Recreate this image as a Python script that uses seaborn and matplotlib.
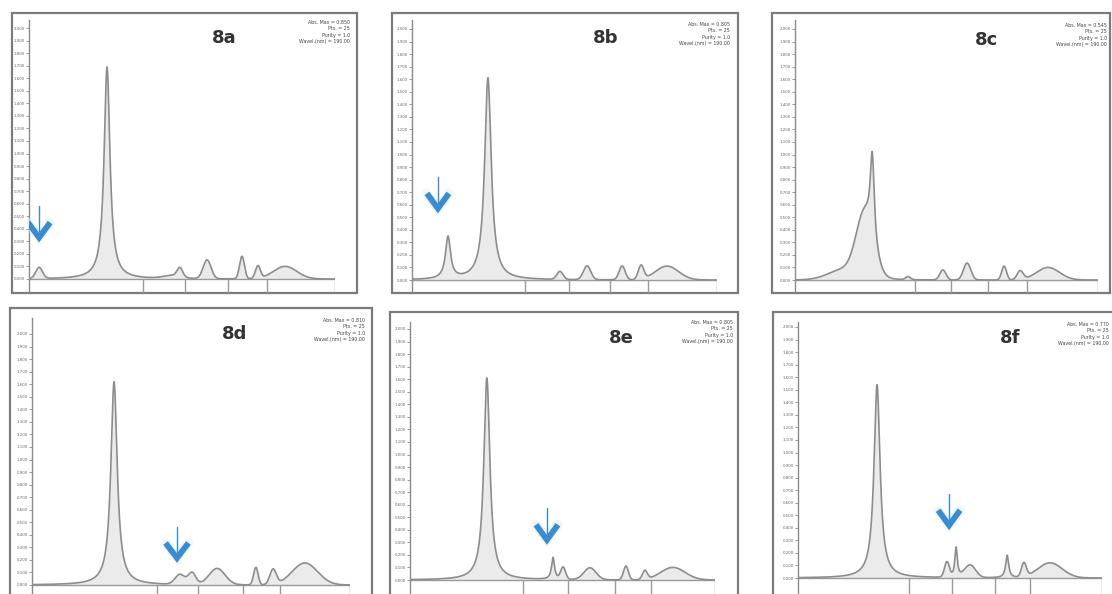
import numpy as np
import matplotlib
matplotlib.use("Agg")
import matplotlib.pyplot as plt
from matplotlib.patches import Rectangle
import seaborn as sns

# ---- peak tables (retention time [min], height [AU], width [min], shape) ----
rt_8a = [0.33, 2.55, 4.70, 4.93, 5.82, 6.96, 7.48, 8.37]
ht_8a = [0.088, 1.69, 0.025, 0.070, 0.150, 0.180, 0.100, 0.100]
wd_8a = [0.11, 0.115, 0.30, 0.09, 0.13, 0.08, 0.08, 0.38]
sh_8a = ["G", "L", "G", "G", "G", "G", "G", "G"]

rt_8b = [1.18, 2.49, 4.85, 5.74, 6.89, 7.51, 8.36]
ht_8b = [0.335, 1.61, 0.064, 0.110, 0.110, 0.110, 0.110]
wd_8b = [0.10, 0.13, 0.10, 0.12, 0.10, 0.09, 0.38]
sh_8b = ["L", "L", "G", "G", "G", "G", "G"]

rt_8c = [1.60, 2.30, 2.55, 3.73, 4.88, 5.68, 6.90, 7.43, 8.35]
ht_8c = [0.080, 0.490, 0.680, 0.024, 0.080, 0.135, 0.110, 0.070, 0.100]
wd_8c = [0.50, 0.28, 0.08, 0.08, 0.10, 0.12, 0.08, 0.10, 0.38]
sh_8c = ["G", "G", "L", "G", "G", "G", "G", "G", "G"]

rt_8d = [2.58, 4.65, 5.03, 5.82, 7.04, 7.58, 8.58]
ht_8d = [1.62, 0.080, 0.095, 0.130, 0.140, 0.120, 0.175]
wd_8d = [0.12, 0.15, 0.12, 0.25, 0.07, 0.10, 0.40]
sh_8d = ["L", "G", "G", "G", "G", "G", "G"]

rt_8e = [2.52, 4.69, 5.02, 5.90, 7.08, 7.70, 8.62]
ht_8e = [1.61, 0.175, 0.095, 0.095, 0.110, 0.070, 0.100]
wd_8e = [0.12, 0.06, 0.08, 0.20, 0.08, 0.08, 0.40]
sh_8e = ["L", "L", "G", "G", "G", "G", "G"]

rt_8f = [2.60, 4.90, 5.20, 5.66, 6.88, 7.43, 8.29]
ht_8f = [1.54, 0.120, 0.240, 0.100, 0.180, 0.110, 0.120]
wd_8f = [0.12, 0.08, 0.05, 0.18, 0.06, 0.08, 0.40]
sh_8f = ["L", "G", "L", "G", "L", "G", "G"]

# segment markers on the time axis [min]
marks_8a = [3.73, 5.10, 6.50, 7.78, 10.0]
marks_8b = [3.70, 5.15, 6.49, 7.74, 10.0]
marks_8c = [3.96, 5.15, 6.37, 7.66, 10.0]
marks_8d = [3.93, 5.22, 6.64, 7.80, 10.0]
marks_8e = [3.70, 5.18, 6.72, 7.90, 10.0]
marks_8f = [3.65, 5.07, 6.48, 7.63, 10.0]

# arrow annotations: (time [min], tip height [AU])
arrow_8a = (0.33, 0.33)
arrow_8b = (0.85, 0.57)
arrow_8d = (4.56, 0.215)
arrow_8e = (4.49, 0.32)
arrow_8f = (4.97, 0.42)

y_ticks = [0.0, 0.1, 0.2, 0.3, 0.4, 0.5, 0.6, 0.7, 0.8, 0.9, 1.0,
           1.1, 1.2, 1.3, 1.4, 1.5, 1.6, 1.7, 1.8, 1.9, 2.0]

info_8a = ["Abs. Max = 0.850", "Pts. = 25", "Purity = 1.0", "Wavel.(nm) = 190.00"]
info_8b = ["Abs. Max = 0.805", "Pts. = 25", "Purity = 1.0", "Wavel.(nm) = 190.00"]
info_8c = ["Abs. Max = 0.545", "Pts. = 25", "Purity = 1.0", "Wavel.(nm) = 190.00"]
info_8d = ["Abs. Max = 0.810", "Pts. = 25", "Purity = 1.0", "Wavel.(nm) = 190.00"]
info_8e = ["Abs. Max = 0.805", "Pts. = 25", "Purity = 1.0", "Wavel.(nm) = 190.00"]
info_8f = ["Abs. Max = 0.770", "Pts. = 25", "Purity = 1.0", "Wavel.(nm) = 190.00"]

# ---- page layout in pixels ----
W, H = 1112, 594
PX_PER_AU = 125.5
layout = {
    "8a": dict(box=(12, 13, 357, 293), x0=29, x10=335, base=279, top=20, bottom=293,
               label=(224, 38), info=(350, 20)),
    "8b": dict(box=(392, 13, 738, 293), x0=412, x10=717, base=280, top=20, bottom=293,
               label=(606, 38), info=(730, 22)),
    "8c": dict(box=(772, 13, 1110, 293), x0=795, x10=1098, base=280, top=20, bottom=293,
               label=(987, 40), info=(1107, 23)),
    "8d": dict(box=(10, 308, 372, 612), x0=32, x10=350, base=585, top=318, bottom=612,
               label=(235, 334), info=(365, 318)),
    "8e": dict(box=(390, 312, 738, 612), x0=410, x10=715, base=580, top=322, bottom=612,
               label=(621, 338), info=(733, 320)),
    "8f": dict(box=(773, 312, 1125, 612), x0=798, x10=1102, base=578, top=322, bottom=612,
               label=(1010, 338), info=(1109, 322)),
}

panels = {
    "8a": (rt_8a, ht_8a, wd_8a, sh_8a, marks_8a, arrow_8a, info_8a),
    "8b": (rt_8b, ht_8b, wd_8b, sh_8b, marks_8b, arrow_8b, info_8b),
    "8c": (rt_8c, ht_8c, wd_8c, sh_8c, marks_8c, None, info_8c),
    "8d": (rt_8d, ht_8d, wd_8d, sh_8d, marks_8d, arrow_8d, info_8d),
    "8e": (rt_8e, ht_8e, wd_8e, sh_8e, marks_8e, arrow_8e, info_8e),
    "8f": (rt_8f, ht_8f, wd_8f, sh_8f, marks_8f, arrow_8f, info_8f),
}

LINE = "#8d8d8d"
FILL = "#ebebeb"
FRAME = "#7b7b7b"
BLUE = "#3a8bd0"

sns.set_theme(style="white")
plt.rcParams["font.family"] = ["DejaVu Sans"]

fig = plt.figure(figsize=(W / 100, H / 100), dpi=100)
fig.patch.set_facecolor("white")


def chromatogram(t, rts, hts, wds, shapes):
    y = np.zeros_like(t)
    for rt, h, w, s in zip(rts, hts, wds, shapes):
        u = (t - rt) / w
        y += h / (1.0 + u * u) if s == "L" else h * np.exp(-0.5 * u * u)
    return y


def chevron(ax, x, tip):
    dx, dy = 0.36, 0.12
    ax.plot([x, x], [tip + 0.05, tip + 0.25], color=BLUE, lw=1.0, zorder=6)
    ax.plot([x - dx, x, x + dx], [tip + dy, tip, tip + dy], color="#e3eff9",
            lw=7, alpha=0.5, solid_joinstyle="miter", zorder=5)
    ax.plot([x - dx, x, x + dx], [tip + dy, tip, tip + dy], color=BLUE,
            lw=4.2, solid_capstyle="butt", solid_joinstyle="miter", zorder=7)


t = np.linspace(0, 10, 3000)

for name, (rts, hts, wds, shapes, marks, arrow, info) in panels.items():
    g = layout[name]
    l, tp, r, b = g["box"]
    fig.add_artist(Rectangle((l / W, 1 - b / H), (r - l) / W, (b - tp) / H,
                             transform=fig.transFigure, fill=False,
                             ec=FRAME, lw=1.6, zorder=0))

    ax = fig.add_axes([g["x0"] / W, 1 - g["bottom"] / H,
                       (g["x10"] - g["x0"]) / W, (g["bottom"] - g["top"]) / H])
    ax.patch.set_alpha(0)
    ybot = -(g["bottom"] - g["base"]) / PX_PER_AU
    ytop = (g["base"] - g["top"]) / PX_PER_AU

    y = chromatogram(t, rts, hts, wds, shapes)
    ax.fill_between(t, 0, y, color=FILL, lw=0, zorder=1)
    sns.lineplot(x=t, y=y, ax=ax, color=LINE, linewidth=1.2, zorder=3)
    ax.axhline(0, color="#9a9a9a", lw=1.0, zorder=2)
    ax.vlines(marks, ybot, 0, color="#9a9a9a", lw=1.0, zorder=2)

    if arrow is not None:
        chevron(ax, *arrow)

    ax.set_xlim(0, 10)
    ax.set_ylim(ybot, ytop)
    ax.set_xticks([])
    ax.set_yticks(y_ticks)
    ax.set_yticklabels([f"{v:.3f}" for v in y_ticks], fontsize=2.8, color="#666666")
    ax.tick_params(axis="y", left=True, length=2, width=0.6, color="#888888", pad=1)
    for side in ("top", "right", "bottom"):
        ax.spines[side].set_visible(False)
    ax.spines["left"].set_color("#8a8a8a")
    ax.spines["left"].set_linewidth(1.0)

    lx, ly = g["label"]
    fig.text(lx / W, 1 - ly / H, name, ha="center", va="center",
             fontsize=13, fontweight="bold", color="#333333")
    ix, iy = g["info"]
    fig.text(ix / W, 1 - iy / H, "\n".join(info), ha="right", va="top",
             fontsize=3.4, linespacing=1.35, color="#444444")

fig.savefig("out.png", dpi=100, facecolor="white")
